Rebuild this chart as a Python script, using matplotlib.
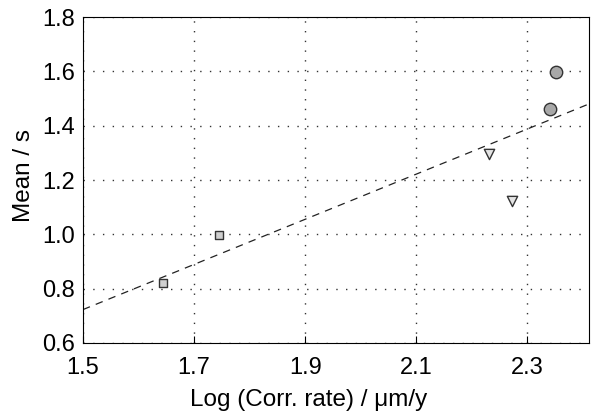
import matplotlib.pyplot as plt

plt.rcParams['font.family'] = ['Liberation Sans', 'DejaVu Sans']

# data
sq_x = [1.644, 1.745]
sq_y = [0.822, 0.998]
tri_x = [2.231, 2.272]
tri_y = [1.297, 1.124]
circ_x = [2.351, 2.341]
circ_y = [1.599, 1.460]
fit_x = [1.5, 2.411]
fit_y = [0.723, 1.480]

xticks = [1.5, 1.7, 1.9, 2.1, 2.3]
yticks = [0.6, 0.8, 1.0, 1.2, 1.4, 1.6, 1.8]

fig = plt.figure(figsize=(5.91, 4.12), dpi=100)
ax = fig.add_axes([0.1404, 0.1675, 0.8562, 0.7912])

ax.plot(fit_x, fit_y, color="#222222", lw=0.9, ls=(0, (6, 5)))
ax.scatter(sq_x, sq_y, marker="s", s=30, facecolor="#cfcfcf", edgecolor="#333333", lw=1.0, zorder=3)
ax.scatter(tri_x, tri_y, marker="v", s=55, facecolor="#e4e4e4", edgecolor="#333333", lw=1.0, zorder=3)
ax.scatter(circ_x, circ_y, marker="o", s=80, facecolor="#a8a8a8", edgecolor="#333333", lw=1.0, zorder=3)

ax.set_xlim(1.5, 2.411)
ax.set_ylim(0.6, 1.8)
ax.set_xticks(xticks)
ax.set_yticks(yticks)
ax.set_xticklabels(["%.1f" % v for v in xticks])
ax.set_yticklabels(["%.1f" % v for v in yticks])
ax.grid(True, ls=(0, (1, 6)), color="#333333", lw=1.0)
ax.tick_params(direction="in", length=5, width=0.8, labelsize=17, pad=10)
ax.tick_params(axis="y", length=0, pad=6)
for s in ax.spines.values():
    s.set_linewidth(0.8)

ax.set_xlabel("Log (Corr. rate) / μm/y", fontsize=17.5, labelpad=7)
ax.set_ylabel("Mean / s", fontsize=17.5, labelpad=5)
ax.xaxis.label.set_x(0.445)
ax.yaxis.label.set_y(0.515)

plt.savefig("out.png", dpi=100)
